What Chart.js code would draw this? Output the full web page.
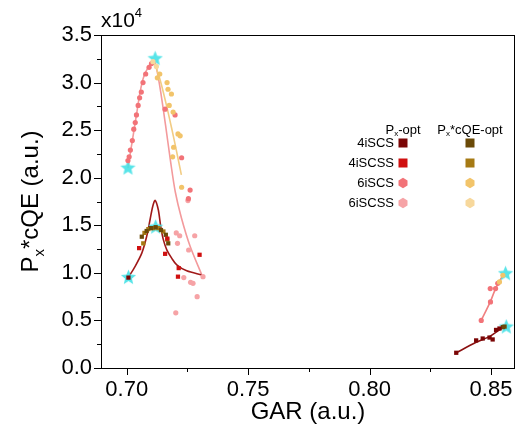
<!DOCTYPE html>
<html>
<head>
<meta charset="utf-8">
<script src="https://cdn.jsdelivr.net/npm/chart.js@4.4.0/dist/chart.umd.min.js"></script>
<style>
  html, body { margin: 0; padding: 0; background: #fff; }
</style>
</head>
<body>
<canvas id="chart" width="526" height="441"></canvas>
<script>
// --- 1. Datos (valores en unidades de x10^4) ---
const xTicks = [0.70, 0.75, 0.80, 0.85];
const xMinor = [0.725, 0.775, 0.825];
const yTicks = [0.0, 0.5, 1.0, 1.5, 2.0, 2.5, 3.0, 3.5];
const yMinor = [0.25, 0.75, 1.25, 1.75, 2.25, 2.75, 3.25];
const seriesNames = ['4iSCS', '4iSCSS', '6iSCS', '6iSCSS'];

// Px-opt
const p4iSCS_x = [0.7007, 0.8357, 0.8439, 0.8466, 0.8494, 0.8507, 0.8521, 0.8535];
const p4iSCS_y = [0.95, 0.16, 0.29, 0.31, 0.32, 0.30, 0.40, 0.415];
const p4iSCSS_x = [0.7051, 0.7158, 0.7167, 0.7214, 0.7211, 0.7300];
const p4iSCSS_y = [1.26, 1.20, 1.36, 1.05, 0.96, 1.19];
const p6iSCS_x = [0.7005, 0.7010, 0.7015, 0.7023, 0.7029, 0.7035, 0.7040, 0.7047, 0.7053, 0.7060, 0.7067, 0.7078, 0.7092, 0.7102,
                  0.7158, 0.7199, 0.7226, 0.7261, 0.7254,
                  0.8460, 0.8498, 0.8497, 0.8519, 0.8528];
const p6iSCS_y = [2.18, 2.22, 2.29, 2.39, 2.51, 2.58, 2.66, 2.76, 2.84, 2.90, 3.00, 3.09, 3.16, 3.20,
                  2.72, 2.66, 2.21, 1.87, 1.78,
                  0.50, 0.695, 0.835, 0.835, 0.89];
const p6iSCSS_x = [0.7204, 0.7218, 0.7209, 0.7280, 0.7255, 0.7235, 0.7263, 0.7273, 0.7290, 0.7202, 0.7314, 0.7252];
const p6iSCSS_y = [1.42, 1.39, 1.31, 1.39, 1.24, 0.95, 0.90, 0.89, 0.75, 0.58, 0.96, 1.76];

// Px*cQE-opt
const c4iSCS_x = [0.7062, 0.7082, 0.7100, 0.7119, 0.7141, 0.7161, 0.7171, 0.8549, 0.8556];
const c4iSCS_y = [1.38, 1.44, 1.47, 1.48, 1.45, 1.40, 1.31, 0.43, 0.435];
const c4iSCSS_x = [0.7068, 0.7073, 0.7089, 0.7110, 0.7130, 0.7151, 0.7167];
const c4iSCSS_y = [1.31, 1.42, 1.46, 1.47, 1.47, 1.435, 1.35];
const c6iSCS_x = [0.7126, 0.7136, 0.7166, 0.7170, 0.7184, 0.7175, 0.7191, 0.7211, 0.7220, 0.7193, 0.7189, 0.7226, 0.8535, 0.8549];
const c6iSCS_y = [3.05, 3.09, 3.00, 2.93, 2.88, 2.76, 2.69, 2.46, 2.44, 2.32, 2.22, 1.90, 0.905, 0.975];
const c6iSCSS_x = [0.7108, 0.7122];
const c6iSCSS_y = [3.22, 3.17];

// Curvas de ajuste
const fit4L_x = [0.7007, 0.7034, 0.7062, 0.7082, 0.7096, 0.7107, 0.7117, 0.7130, 0.7140, 0.7151, 0.7165, 0.7185, 0.7206, 0.7247, 0.7309];
const fit4L_y = [0.955, 1.066, 1.207, 1.382, 1.558, 1.698, 1.761, 1.663, 1.487, 1.347, 1.242, 1.155, 1.084, 1.021, 0.979];
const fit6L_x = [0.7005, 0.7023, 0.7040, 0.7055, 0.7070, 0.7090, 0.7105, 0.7115, 0.7125, 0.7140, 0.7160, 0.7180, 0.7200, 0.7225, 0.7261, 0.7309];
const fit6L_y = [2.10, 2.39, 2.66, 2.90, 3.06, 3.17, 3.22, 3.22, 3.12, 2.90, 2.55, 2.18, 1.85, 1.58, 1.28, 0.98];
const fitC6L_x = [0.7112, 0.7135, 0.7160, 0.7185, 0.7205, 0.7225];
const fitC6L_y = [3.22, 3.05, 2.80, 2.52, 2.28, 2.03];
const fit4R_x = [0.8357, 0.8439, 0.8494, 0.8535, 0.8563];
const fit4R_y = [0.16, 0.27, 0.33, 0.40, 0.44];
const fit6R_x = [0.8460, 0.8498, 0.8519, 0.8549];
const fit6R_y = [0.50, 0.70, 0.835, 0.975];

// Óptimos (estrellas)
const opt_x = [0.7005, 0.7117, 0.7007, 0.7119, 0.8560, 0.8563];
const opt_y = [2.10, 3.25, 0.95, 1.48, 0.99, 0.43];

// --- 2. Estilos ---
const FONT = '"Liberation Sans", Arial, sans-serif';
const colPx = ['#7A0505', '#D01010', '#F27378', '#F6A3A6'];
const colCQE = ['#6B4A08', '#A67A14', '#F2C46A', '#F7D89C'];

const toPts = (xs, ys) => xs.map((v, i) => ({ x: v, y: ys[i] }));

// estrella de 5 puntas para los óptimos
function makeStar(size, color) {
  const c = document.createElement('canvas');
  c.width = size; c.height = size;
  const g = c.getContext('2d');
  const r1 = size / 2 - 0.5, r2 = r1 * 0.45, cx = size / 2, cy = size / 2;
  g.beginPath();
  for (let i = 0; i < 10; i++) {
    const r = i % 2 === 0 ? r1 : r2;
    const a = -Math.PI / 2 + i * Math.PI / 5;
    g.lineTo(cx + r * Math.cos(a), cy + r * Math.sin(a));
  }
  g.closePath();
  g.fillStyle = color;
  g.fill();
  return c;
}
const starImg = makeStar(17, 'rgba(70,225,230,0.9)');

function scatterSet(label, xs, ys, color, style, r) {
  return {
    label: label, data: toPts(xs, ys), showLine: false,
    pointStyle: style, pointRadius: r, pointHoverRadius: r,
    backgroundColor: color, borderColor: color, borderWidth: 0
  };
}
function lineSet(label, xs, ys, color) {
  return {
    label: label, data: toPts(xs, ys), showLine: true, tension: 0.3,
    pointRadius: 0, borderColor: color, borderWidth: 1.6, backgroundColor: color
  };
}

function hexPath(ctx, cx, cy, r) {
  ctx.beginPath();
  for (let i = 0; i < 6; i++) {
    const a = Math.PI / 6 + i * Math.PI / 3;
    ctx.lineTo(cx + r * Math.cos(a), cy + r * Math.sin(a));
  }
  ctx.closePath();
}

// texto con subíndice "x" tras la P
function subText(ctx, parts, x, y, align) {
  // parts: [[texto, tamaño, desplazamiento]]
  let total = 0;
  parts.forEach(p => { ctx.font = p[1] + 'px ' + FONT; total += ctx.measureText(p[0]).width; });
  let cur = align === 'center' ? x - total / 2 : x;
  ctx.textAlign = 'left';
  parts.forEach(p => {
    ctx.font = p[1] + 'px ' + FONT;
    ctx.fillText(p[0], cur, y + p[2]);
    cur += ctx.measureText(p[0]).width;
  });
}

// --- 3. Plugin de decoración (marco, ticks, títulos, leyenda) ---
const decor = {
  id: 'decor',
  afterDraw(chart) {
    const { ctx, chartArea: a, scales: { x, y } } = chart;
    ctx.save();
    ctx.strokeStyle = '#000';
    ctx.lineWidth = 1;
    ctx.strokeRect(a.left + 0.5, a.top + 0.5, a.right - a.left - 1, a.bottom - a.top);

    ctx.beginPath();
    xTicks.forEach(v => { const p = Math.round(x.getPixelForValue(v)) + 0.5; ctx.moveTo(p, a.bottom); ctx.lineTo(p, a.bottom + 7); });
    xMinor.forEach(v => { const p = Math.round(x.getPixelForValue(v)) + 0.5; ctx.moveTo(p, a.bottom); ctx.lineTo(p, a.bottom + 4); });
    yTicks.forEach(v => { const p = Math.round(y.getPixelForValue(v)) + 0.5; ctx.moveTo(a.left, p); ctx.lineTo(a.left - 7, p); });
    yMinor.forEach(v => { const p = Math.round(y.getPixelForValue(v)) + 0.5; ctx.moveTo(a.left, p); ctx.lineTo(a.left - 4, p); });
    ctx.stroke();

    ctx.fillStyle = '#000';
    ctx.textBaseline = 'alphabetic';

    // x10^4
    subText(ctx, [['x10', 21, 0], ['4', 13, -10]], a.left, 27, 'left');

    // título eje X
    ctx.font = '24px ' + FONT;
    ctx.textAlign = 'center';
    ctx.fillText('GAR (a.u.)', (a.left + a.right) / 2, 419);

    // título eje Y (rotado)
    ctx.save();
    ctx.translate(38, (a.top + a.bottom) / 2);
    ctx.rotate(-Math.PI / 2);
    subText(ctx, [['P', 24, 0], ['x', 15, 6], ['*cQE (a.u.)', 24, 0]], 0, 0, 'center');
    ctx.restore();

    // leyenda
    const col1 = 403, col2 = 470, rows = [143, 163, 183, 203];
    ctx.textBaseline = 'middle';
    subText(ctx, [['P', 13, 0], ['x', 8, 4], ['-opt', 13, 0]], col1, 130, 'center');
    subText(ctx, [['P', 13, 0], ['x', 8, 4], ['*cQE-opt', 13, 0]], col2, 130, 'center');
    seriesNames.forEach((n, i) => {
      ctx.font = '13px ' + FONT;
      ctx.textAlign = 'right';
      ctx.fillStyle = '#000';
      ctx.fillText(n, 394, rows[i]);
      [[col1, colPx[i]], [col2, colCQE[i]]].forEach(([cx, c]) => {
        ctx.fillStyle = c;
        if (i < 2) ctx.fillRect(cx - 4.5, rows[i] - 4.5, 9, 9);
        else { hexPath(ctx, cx, rows[i], 5.2); ctx.fill(); }
      });
    });
    ctx.restore();
  }
};

// --- 4. Gráfico ---
const datasets = [
  scatterSet('4iSCS Px-opt', p4iSCS_x, p4iSCS_y, colPx[0], 'rect', 3),
  scatterSet('4iSCSS Px-opt', p4iSCSS_x, p4iSCSS_y, colPx[1], 'rect', 3),
  scatterSet('4iSCS cQE-opt', c4iSCS_x, c4iSCS_y, colCQE[0], 'rect', 3),
  scatterSet('4iSCSS cQE-opt', c4iSCSS_x, c4iSCSS_y, colCQE[1], 'rect', 3),
  scatterSet('6iSCS cQE-opt', c6iSCS_x, c6iSCS_y, colCQE[2], 'circle', 2.6),
  scatterSet('6iSCSS cQE-opt', c6iSCSS_x, c6iSCSS_y, colCQE[3], 'circle', 2.6),
  scatterSet('6iSCS Px-opt', p6iSCS_x, p6iSCS_y, colPx[2], 'circle', 2.6),
  scatterSet('6iSCSS Px-opt', p6iSCSS_x, p6iSCSS_y, colPx[3], 'circle', 2.6),
  { label: 'opt', data: toPts(opt_x, opt_y), showLine: false, pointStyle: starImg, pointRadius: 8 },
  lineSet('fit 4i L', fit4L_x, fit4L_y, '#A01818'),
  lineSet('fit 4i R', fit4R_x, fit4R_y, '#8B1010'),
  lineSet('fit 6i cQE L', fitC6L_x, fitC6L_y, '#F2CC84'),
  lineSet('fit 6i L', fit6L_x, fit6L_y, '#F39A9C'),
  lineSet('fit 6i R', fit6R_x, fit6R_y, '#F08080')
];

new Chart(document.getElementById('chart'), {
  type: 'scatter',
  data: { datasets: datasets },
  options: {
    responsive: false,
    animation: false,
    devicePixelRatio: 1,
    layout: { padding: { top: 35, right: 11, left: 0, bottom: 0 } },
    plugins: { legend: { display: false }, tooltip: { enabled: false } },
    scales: {
      x: {
        type: 'linear', min: 0.6894, max: 0.8599,
        afterBuildTicks: s => { s.ticks = xTicks.map(v => ({ value: v })); },
        afterFit: s => { s.height = 73; },
        grid: { display: false, drawTicks: false },
        border: { display: false },
        ticks: { color: '#000', padding: 9, maxRotation: 0, font: { family: FONT, size: 22 },
                 callback: v => v.toFixed(2) }
      },
      y: {
        type: 'linear', min: 0, max: 3.5,
        afterBuildTicks: s => { s.ticks = yTicks.map(v => ({ value: v })); },
        afterFit: s => { s.width = 101; },
        grid: { display: false, drawTicks: false },
        border: { display: false },
        ticks: { color: '#000', padding: 9, font: { family: FONT, size: 22 },
                 callback: v => v.toFixed(1) }
      }
    }
  },
  plugins: [decor]
});
</script>
</body>
</html>
